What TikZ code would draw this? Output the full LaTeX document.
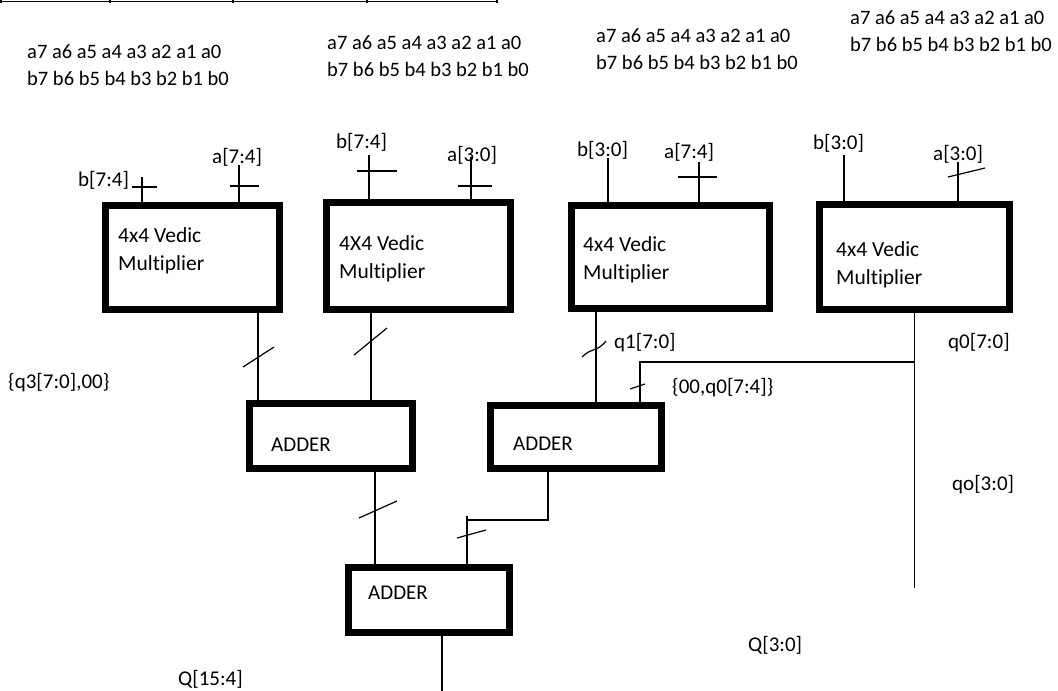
\documentclass[tikz,border=0pt]{standalone}
\usepackage{fontspec}
\setmainfont{Carlito}[Ligatures={NoCommon}]
\begin{document}
\begin{tikzpicture}[x=1pt,y=-1pt,
  wire/.style={line width=1.2pt},
  busmark/.style={line width=1.2pt},
  mbox/.style={draw, line width=7pt, inner sep=0pt},
  lbl/.style={anchor=west, inner sep=0pt, font=\fontsize{21}{27}\selectfont, align=left},
  toplbl/.style={anchor=west, inner sep=0pt, font=\fontsize{20.5}{27}\selectfont, align=left},
  boxlbl/.style={anchor=west, inner sep=0pt, font=\fontsize{21.5}{28}\selectfont, align=left}]
\useasboundingbox (0,0) rectangle (1058,691);
% top table remnant
\draw[line width=1.6pt] (0,1.5) -- (497,1.5);
\foreach \tx in {1,110,233,367,497} \draw[line width=1.6pt] (\tx,0) -- (\tx,3);
% bit rows
\node[toplbl] (r1) at (27,65.5) {a7 a6 a5 a4 a3 a2 a1 a0\\b7 b6 b5 b4 b3 b2 b1 b0};
\node[toplbl] (r2) at (327,56.5) {a7 a6 a5 a4 a3 a2 a1 a0\\b7 b6 b5 b4 b3 b2 b1 b0};
\node[toplbl] (r3) at (596,49) {a7 a6 a5 a4 a3 a2 a1 a0\\b7 b6 b5 b4 b3 b2 b1 b0};
\node[toplbl] (r4) at (850,31.5) {a7 a6 a5 a4 a3 a2 a1 a0\\b7 b6 b5 b4 b3 b2 b1 b0};
% multipliers
\node[mbox, minimum width=174pt, minimum height=104pt] (m1) at (192.5,257.5) {};
\node[mbox, minimum width=184pt, minimum height=107pt] (m2) at (418.5,256) {};
\node[mbox, minimum width=198pt, minimum height=103pt] (m3) at (670.5,257) {};
\node[mbox, minimum width=190pt, minimum height=105pt] (m4) at (914.5,257) {};
\node[boxlbl] (t1) at (118,251) {4x4 Vedic\\Multiplier};
\node[boxlbl] (t2) at (339,258.5) {4X4 Vedic\\Multiplier};
\node[boxlbl] (t3) at (583,260) {4x4 Vedic\\Multiplier};
\node[boxlbl] (t4) at (836,264.5) {4x4 Vedic\\Multiplier};
% adders
\node[mbox, minimum width=163pt, minimum height=65pt] (a1) at (331,436) {};
\node[mbox, minimum width=171pt, minimum height=63pt] (a2) at (576,437) {};
\node[mbox, minimum width=161pt, minimum height=65pt] (a3) at (429,600) {};
\node[lbl] (at1) at (271,445) {ADDER};
\node[lbl] (at2) at (513,444) {ADDER};
\node[lbl] (at3) at (368,593) {ADDER};
% input wires
\coordinate (b1top) at (142,177);
\coordinate (a1top) at (239,165);
\coordinate (b2top) at (369,155);
\coordinate (a2top) at (471,157);
\coordinate (b3top) at (608,158);
\coordinate (a3top) at (699,162);
\coordinate (b4top) at (844,155);
\coordinate (a4top) at (958,162);
\draw[wire] (b1top) -- (m1.north -| b1top);
\draw[wire] (a1top) -- (m1.north -| a1top);
\draw[wire] (b2top) -- (m2.north -| b2top);
\draw[wire] (a2top) -- (m2.north -| a2top);
\draw[wire] (b3top) -- (m3.north -| b3top);
\draw[wire] (a3top) -- (m3.north -| a3top);
\draw[wire] (b4top) -- (m4.north -| b4top);
\draw[wire] (a4top) -- (m4.north -| a4top);
\draw[busmark] (132,187) -- (157,187);
\draw[busmark] (230,186) -- (259,186);
\draw[busmark] (357,171) -- (397,171);
\draw[busmark] (458,186) -- (492,186);
\draw[busmark] (678,177) -- (717,177);
\draw[busmark] (948,177) -- (985,168);
\node[lbl] (lb1) at (78,180) {b[7:4]};
\node[lbl] (la1) at (212,157) {a[7:4]};
\node[lbl] (lb2) at (336,142) {b[7:4]};
\node[lbl] (la2) at (447,155) {a[3:0]};
\node[lbl] (lb3) at (577,150) {b[3:0]};
\node[lbl] (la3) at (664,152) {a[7:4]};
\node[lbl] (lb4) at (813,143) {b[3:0]};
\node[lbl] (la4) at (933,154) {a[3:0]};
% multiplier outputs
\coordinate (x1) at (258,0);
\coordinate (x2) at (371,0);
\coordinate (x3) at (596,0);
\coordinate (x4) at (640,0);
\coordinate (q0end) at (914.5,588);
\coordinate (br) at (914.5,362);
\draw[wire] (m1.south -| x1) -- (a1.north -| x1);
\draw[wire] (m2.south -| x2) -- (a1.north -| x2);
\draw[wire] (m3.south -| x3) -- (a2.north -| x3);
\draw[wire] (m4.south) -- (q0end);
\draw[wire] (br) -| (a2.north -| x4);
\draw[busmark] (243,367) -- (274,347);
\draw[busmark] (354,355) -- (387,328);
\draw[busmark] (582,357) .. controls (592,347) and (596,353) .. (606,341);
\draw[busmark] (630,389) -- (645,384);
% adder outputs
\coordinate (x5) at (375,0);
\coordinate (x6) at (548,0);
\coordinate (j2) at (467,520);
\coordinate (j2top) at (467,516);
\coordinate (qend) at (442,691);
\draw[wire] (a1.south -| x5) -- (a3.north -| x5);
\draw[wire] (a2.south -| x6) |- (j2);
\draw[wire] (j2top) -- (a3.north -| j2);
\draw[busmark] (359,518) -- (397,501);
\draw[busmark] (457,538) -- (486,530);
\draw[wire] (a3.south -| qend) -- (qend);
% labels
\node[lbl] (lq3) at (8,383) {\{q3[7:0],00\}};
\node[lbl] (lq1) at (614,343) {q1[7:0]};
\node[lbl] (lq0b) at (672,388) {\{00,q0[7:4]\}};
\node[lbl] (lq0) at (948,343) {q0[7:0]};
\node[lbl] (lqo) at (952,485) {qo[3:0]};
\node[lbl] (lQl) at (748,645) {Q[3:0]};
\node[lbl] (lQh) at (178,679) {Q[15:4]};
\end{tikzpicture}
\end{document}
